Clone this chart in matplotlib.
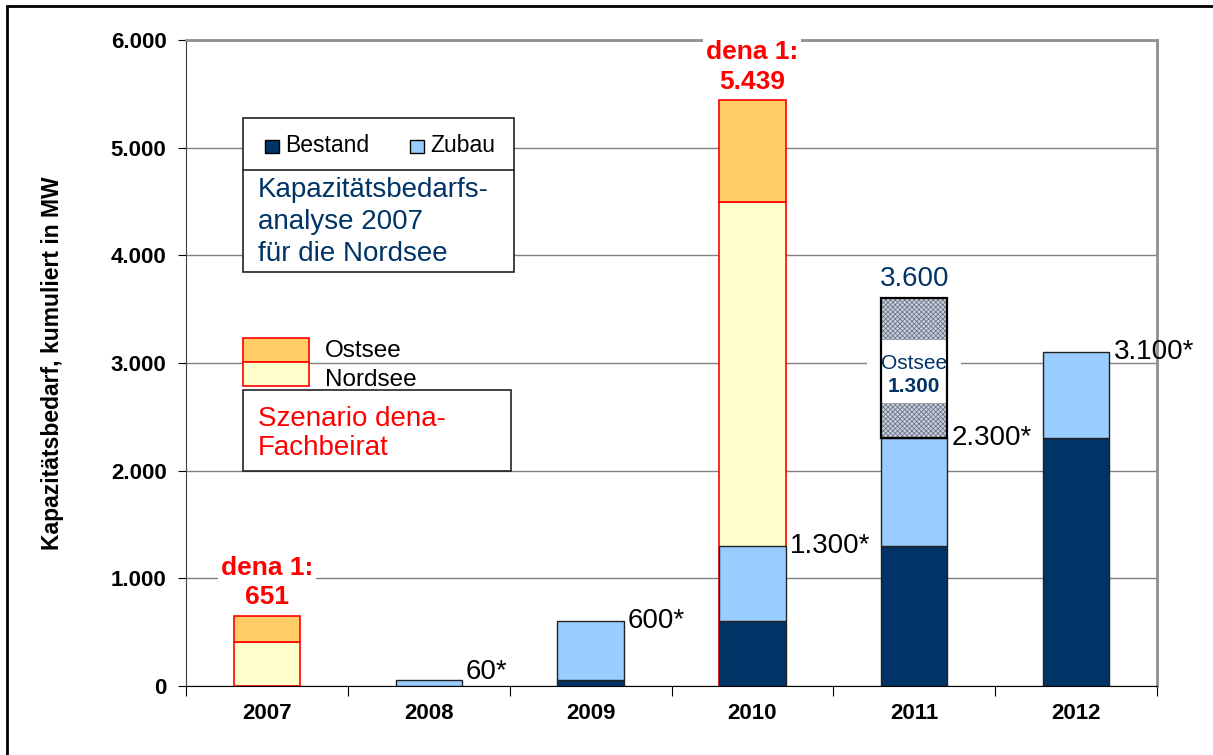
import numpy as np
import matplotlib.pyplot as plt
from matplotlib.patches import Rectangle
from matplotlib.ticker import FuncFormatter

plt.rcParams['font.family'] = ['Liberation Sans', 'DejaVu Sans']

years = ['2007', '2008', '2009', '2010', '2011', '2012']
bestand = np.array([0, 0, 60, 600, 1300, 2300])
zubau = np.array([0, 60, 540, 700, 1000, 800])
nordsee = np.array([410, 0, 0, 4500, 0, 0])
ostsee = np.array([241, 0, 0, 939, 0, 0])
ostsee_kba = np.array([0, 0, 0, 0, 1300, 0])   # hatched Ostsee block 2011
dena_text = ['651', '', '', '5.439', '', '']

c_bestand = '#003366'
c_zubau = '#99CCFF'
c_ost = '#FFCC66'
c_nord = '#FFFFCC'
c_text_blue = '#003366'

def fmt(v):
    return f'{v:,.0f}'.replace(',', '.')

fig = plt.figure(figsize=(12.13, 7.55), dpi=100)
ax = fig.add_axes([186/1213, 1 - 686/755, 971/1213, 646/755])

x = np.arange(len(years))
w = 0.41

# dena scenario (red outlined)
m = nordsee > 0
ax.bar(x[m], nordsee[m], w, color=c_nord, edgecolor='red', lw=1.2, zorder=2)
m = ostsee > 0
ax.bar(x[m], ostsee[m], w, bottom=nordsee[m], color=c_ost, edgecolor='red', lw=1.2, zorder=2)

# Bestand / Zubau
m = bestand > 0
ax.bar(x[m], bestand[m], w, color=c_bestand, edgecolor='#222222', lw=1, zorder=3)
m = zubau > 0
ax.bar(x[m], zubau[m], w, bottom=bestand[m], color=c_zubau, edgecolor='#222222', lw=1, zorder=3)

total = bestand + zubau

# hatched Ostsee 2011
m = ostsee_kba > 0
plt.rcParams['hatch.color'] = '#6c7892'
plt.rcParams['hatch.linewidth'] = 0.6
ax.bar(x[m], ostsee_kba[m], w, bottom=total[m], color='#ccd0d8', hatch='xxxxxxx',
       edgecolor='#6c7892', lw=0, zorder=3)
for i in x[m]:
    mid = total[i] + ostsee_kba[i] / 2
    ax.add_patch(Rectangle((i - 0.29, mid - 320), 0.58, 580, facecolor='white',
                           edgecolor='none', zorder=4))
    ax.bar(i, ostsee_kba[i], w, bottom=total[i], fill=False, edgecolor='black',
           lw=1.6, zorder=5)
    ax.text(i, mid + 45, 'Ostsee', ha='center', va='center', fontsize=15,
            color=c_text_blue, zorder=6)
    ax.text(i, mid - 165, fmt(ostsee_kba[i]), ha='center', va='center', fontsize=15,
            fontweight='bold', color=c_text_blue, zorder=6)
    ax.text(i, total[i] + ostsee_kba[i] + 60, fmt(total[i] + ostsee_kba[i]),
            ha='center', va='bottom', fontsize=20, color=c_text_blue, zorder=6)

# value labels with *
for i in x:
    if total[i] > 0:
        y = max(total[i], 130)
        ax.annotate(fmt(total[i]) + '*', (i + w / 2, y), xytext=(3, 0),
                    textcoords='offset points', ha='left', va='center',
                    fontsize=20, zorder=6)

# dena labels
for i in x:
    if dena_text[i]:
        ax.text(i, nordsee[i] + ostsee[i] + 60, 'dena 1:\n' + dena_text[i],
                ha='center', va='bottom', fontsize=19, fontweight='bold',
                color='red', linespacing=1.3, zorder=6,
                bbox=dict(facecolor='white', edgecolor='none', pad=2))

# axes styling
ax.set_xlim(-0.5, len(years) - 0.5)
ax.set_ylim(0, 6000)
ax.set_yticks(np.arange(0, 6001, 1000))
ax.yaxis.set_major_formatter(FuncFormatter(lambda v, p: fmt(v)))
ax.set_xticks(np.arange(-0.5, len(years), 1.0))
ax.set_xticklabels([])
ax.set_xticks(x, minor=True)
ax.set_xticklabels(years, minor=True)
ax.tick_params(axis='x', which='minor', length=0, pad=12)
ax.tick_params(axis='x', which='major', length=7, direction='out', color='black')
ax.tick_params(axis='y', length=6, direction='out', pad=8)
for lab in ax.get_xticklabels(minor=True) + ax.get_yticklabels():
    lab.set_fontsize(16)
    lab.set_fontweight('bold')
ax.yaxis.grid(True, color='#808080', lw=1)
ax.set_axisbelow(True)
for s in ['top', 'right']:
    ax.spines[s].set_color('#909090')
    ax.spines[s].set_linewidth(2)
ax.spines['left'].set_color('#404040')
ax.spines['bottom'].set_color('black')
ax.set_ylabel('Kapazitätsbedarf, kumuliert in MW', fontsize=16.5, fontweight='bold',
              labelpad=34)

# legend box 1: Bestand / Zubau + KBA text
T = ax.transAxes
ax.add_patch(Rectangle((0.0587, 0.6409), 0.2791, 0.2384, transform=T, facecolor='white',
                       edgecolor='#222222', lw=1.2, zorder=7))
ax.plot([0.0587, 0.3378], [0.7988, 0.7988], transform=T, color='#222222', lw=1.2, zorder=8)
ax.add_patch(Rectangle((0.0814, 0.8251), 0.0144, 0.0201, transform=T, facecolor=c_bestand,
                       edgecolor='black', lw=1, zorder=8))
ax.text(0.102, 0.836, 'Bestand', transform=T, fontsize=16.5, va='center', zorder=8)
ax.add_patch(Rectangle((0.2307, 0.8251), 0.0144, 0.0201, transform=T, facecolor=c_zubau,
                       edgecolor='black', lw=1, zorder=8))
ax.text(0.2513, 0.836, 'Zubau', transform=T, fontsize=16.5, va='center', zorder=8)
ax.text(0.0742, 0.718, 'Kapazitätsbedarfs-\nanalyse 2007\nfür die Nordsee', transform=T,
        fontsize=20, color=c_text_blue, va='center', linespacing=1.3, zorder=8)

# legend box 2: Ostsee / Nordsee + Szenario text
ax.add_patch(Rectangle((0.0587, 0.5015), 0.068, 0.0372, transform=T, facecolor=c_ost,
                       edgecolor='red', lw=1.2, zorder=8))
ax.add_patch(Rectangle((0.0587, 0.4644), 0.068, 0.0372, transform=T, facecolor=c_nord,
                       edgecolor='red', lw=1.2, zorder=8))
ax.text(0.1432, 0.5186, 'Ostsee', transform=T, fontsize=17.5, va='center', zorder=8)
ax.text(0.1432, 0.4737, 'Nordsee', transform=T, fontsize=17.5, va='center', zorder=8)
ax.add_patch(Rectangle((0.0587, 0.3328), 0.276, 0.1254, transform=T, facecolor='white',
                       edgecolor='#222222', lw=1.2, zorder=7))
ax.text(0.0742, 0.3916, 'Szenario dena-\nFachbeirat', transform=T, fontsize=20,
        color='red', va='center', linespacing=1.15, zorder=8)

# outer frame
fig.patches.append(Rectangle((7/1213, -0.1), 1.2, 1.1 - 6/755, transform=fig.transFigure,
                             fill=False, edgecolor='black', lw=2))

fig.savefig('out.png', dpi=100)
